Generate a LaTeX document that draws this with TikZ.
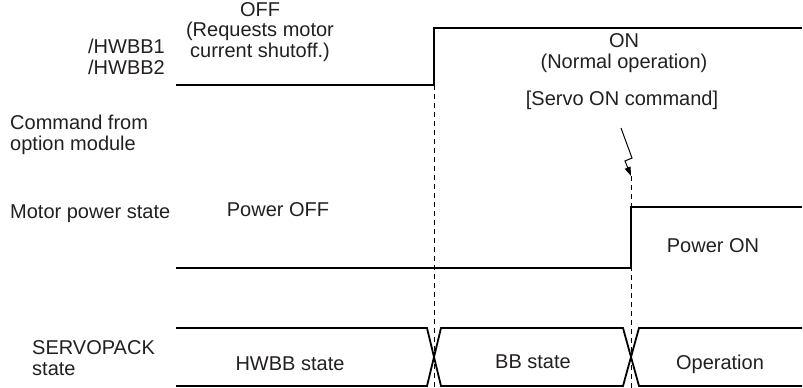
\documentclass[tikz,border=0pt]{standalone}
\usepackage{fontspec}
\setmainfont{Liberation Sans}
\usetikzlibrary{arrows.meta}
\definecolor{ink}{HTML}{231F20}

\begin{document}
\begin{tikzpicture}[x=1pt, y=-1pt,
    every node/.style={font=\fontsize{20}{20.5}\selectfont, color=ink, inner sep=0pt},
    signal/.style={line width=1.8pt, line join=miter},
    guide/.style={line width=0.8pt, dash pattern=on 5pt off 4pt}]
  \useasboundingbox (0,0) rectangle (803,388);
  % row labels
  \node[anchor=east, align=right] (hwbbl) at (165,57) {/HWBB1\\/HWBB2};
  \node[anchor=west, align=left] (cmdl) at (10,135) {Command from\\option module};
  \node[anchor=west] (mps) at (10,214) {Motor power state};
  \node[anchor=west, align=left] (spl) at (32,358) {SERVOPACK\\state};
  % /HWBB signal
  \coordinate (hwA) at (176,85);
  \coordinate (hwB) at (434,85);
  \coordinate (hwC) at (434,28);
  \coordinate (hwD) at (802,28);
  \draw[signal] (hwA) -- (hwB) -- (hwC) -- (hwD);
  \node[align=center] (offtxt) at (260,32) {OFF\\(Requests motor\\current shutoff.)};
  \node[align=center] (ontxt) at (624,53) {ON\\(Normal operation)};
  % servo ON command
  \node (svon) at (622,100) {[Servo ON command]};
  \coordinate (zA) at (621,128);
  \coordinate (zB) at (632,158);
  \coordinate (zC) at (625,161);
  \coordinate (zD) at (631,176);
  \draw[line width=1pt, -{Triangle[length=9pt,width=6pt]}] (zA) -- (zB) -- (zC) -- (zD);
  % motor power
  \coordinate (mpA) at (176,268);
  \coordinate (mpB) at (631,268);
  \coordinate (mpC) at (631,207);
  \coordinate (mpD) at (802,207);
  \draw[signal] (mpA) -- (mpB) -- (mpC) -- (mpD);
  \node (poff) at (278,210) {Power OFF};
  \node (pon) at (713,246) {Power ON};
  % SERVOPACK state
  \draw[signal] (176,328) -- (427,328) -- (441,386) -- (623,386) -- (639,328) -- (802,328);
  \draw[signal] (176,386) -- (427,386) -- (441,328) -- (623,328) -- (639,386) -- (802,386);
  \node (hwbb) at (290,364) {HWBB state};
  \node (bb) at (533,362) {BB state};
  \node (oper) at (720,364) {Operation};
  % timing guides
  \draw[guide] (hwB) -- (434,388);
  \draw[guide] (zD) -- (631,388);
\end{tikzpicture}
\end{document}
